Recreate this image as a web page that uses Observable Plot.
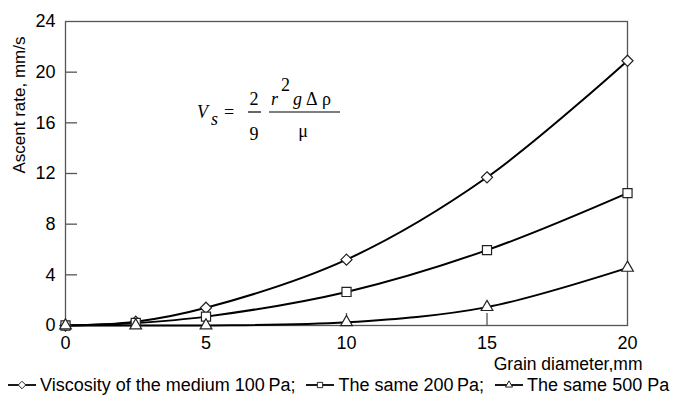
<!DOCTYPE html>
<html><head><meta charset="utf-8">
<script src="https://cdn.jsdelivr.net/npm/d3@7"></script>
<script src="https://cdn.jsdelivr.net/npm/@observablehq/plot@0.6"></script>
<style>
body{margin:0;background:#fff;font-family:"Liberation Sans",Arial,sans-serif;}
#legend{display:flex;align-items:center;height:26px;padding-left:7px;font-size:18px;color:#000;white-space:nowrap}
#legend .item{display:flex;align-items:center;margin-right:10px}
#legend svg{margin-right:3px}
</style></head><body><div id="chart"></div><div id="legend"></div>
<script>
const diameters = [0, 2.5, 5, 10, 15, 20];
const rate100 = [0, 0.3, 1.4, 5.2, 11.7, 20.9];
const rate200 = [0, 0.2, 0.7, 2.65, 5.95, 10.45];
const rate500 = [0, 0, 0, 0.25, 1.45, 4.55];
const seriesNames = ["Viscosity of the medium 100\u2009Pa;", "The same 200\u2009Pa;", "The same 500 Pa"];
const seriesSymbols = ["diamond2", "square2", "triangle2"];
const seriesSizes = [5, 5.8, 5.6];
const xTicks = [0, 5, 10, 15, 20];
const yTicks = [0, 4, 8, 12, 16, 20, 24];
const xInnerTicks = [5, 10, 15];
const yInnerTicks = [4, 8, 12, 16, 20];
const xLabel = "Grain diameter,mm";
const yLabel = "Ascent rate, mm/s";

const allRates = [rate100, rate200, rate500];
const data = allRates.flatMap((vals, s) => diameters.map((d, i) => ({x: d, y: vals[i], series: seriesNames[s], s})));

const chart = Plot.plot({
  width: 687, height: 372,
  marginLeft: 65, marginRight: 60, marginTop: 21, marginBottom: 47,
  style: {fontFamily: "'Liberation Sans', Arial, sans-serif", fontSize: "18px", background: "white", color: "#000"},
  x: {domain: [0, 20]},
  y: {domain: [0, 24]},
  marks: [
    Plot.axisX(xTicks, {tickSize: 0, tickPadding: 11, fontSize: 18, label: null}),
    Plot.axisY(yTicks, {tickSize: 0, tickPadding: 10, fontSize: 18, label: null}),
    Plot.ruleY(yInnerTicks, {y: d => d, x1: 0, x2: 0, insetRight: -12, stroke: "#555", strokeWidth: 1.3}),
    Plot.ruleX(xInnerTicks, {x: d => d, y1: 0, y2: 0, insetBottom: 12, stroke: "#555", strokeWidth: 1.3}),
    Plot.frame({stroke: "#555", strokeWidth: 1.3}),
    Plot.line(data, {x: "x", y: "y", z: "series", curve: "catmull-rom", stroke: "#000", strokeWidth: 2}),
    ...seriesNames.map((name, s) => Plot.dot(data.filter(d => d.s === s), {x: "x", y: "y", symbol: () => seriesSymbols[s], r: seriesSizes[s], fill: "white", stroke: "#222", strokeWidth: 1.2})),
    Plot.text([xLabel], {text: d => d, frameAnchor: "bottom-right", textAnchor: "end", dx: 15, dy: 44, fontSize: 17.5}),
    Plot.text([yLabel], {text: d => d, frameAnchor: "left", rotate: -90, dx: -46, fontSize: 17})
  ]
});
document.getElementById("chart").appendChild(chart);

// formula annotation
const svg = d3.select(chart);
const g = svg.append("g").attr("font-family", "'Liberation Serif', 'Times New Roman', serif").attr("font-size", 18).attr("fill", "#000");
const t = (x, y, s, opts = {}) => g.append("text").attr("x", x).attr("y", y).attr("text-anchor", opts.anchor || "start").attr("font-style", opts.italic ? "italic" : null).attr("font-size", opts.size || null).text(s);
t(197, 118, "V", {italic: true});
t(211, 125, "s", {italic: true});
t(224, 118, "=");
t(254, 105, "2", {anchor: "middle"});
t(254, 140, "9", {anchor: "middle"});
g.append("line").attr("x1", 248).attr("x2", 261).attr("y1", 112).attr("y2", 112).attr("stroke", "#000").attr("stroke-width", 1.2);
t(271, 105, "r", {italic: true});
t(281, 91, "2");
t(293, 105, "g", {italic: true});
t(306, 105, "\u0394");
t(322, 105, "\u03c1");
t(303, 137, "\u03bc", {anchor: "middle"});
g.append("line").attr("x1", 269).attr("x2", 340).attr("y1", 112).attr("y2", 112).attr("stroke", "#000").attr("stroke-width", 1.2);

// legend
const legend = d3.select("#legend");
seriesNames.forEach((name, s) => {
  const item = legend.append("div").attr("class", "item");
  const sv = item.append("svg").attr("width", 30).attr("height", 14);
  sv.append("line").attr("x1", 1).attr("x2", 29).attr("y1", 7).attr("y2", 7).attr("stroke", "#000").attr("stroke-width", 1.8);
  sv.append("path").attr("transform", "translate(15,7)")
    .attr("d", d3.symbol(seriesSymbols[s] === "diamond2" ? d3.symbolDiamond2 : seriesSymbols[s] === "square2" ? d3.symbolSquare2 : d3.symbolTriangle2, 36)())
    .attr("fill", "white").attr("stroke", "#222").attr("stroke-width", 1);
  item.append("span").text(name);
});
</script></body></html>
